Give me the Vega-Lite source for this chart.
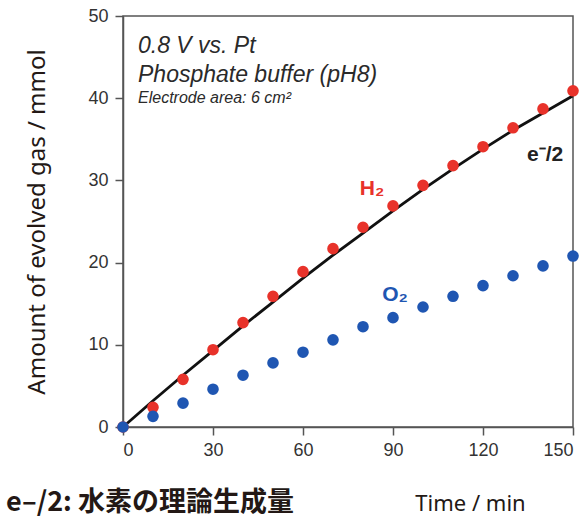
{
  "$schema": "https://vega.github.io/schema/vega-lite/v6.json",
  "width": 450,
  "height": 411,
  "autosize": {"type": "none"},
  "padding": {"left": 123, "top": 16, "right": 10, "bottom": 91},
  "background": "white",
  "config": {
    "view": {"stroke": "#555", "strokeWidth": 1.5},
    "font": "Liberation Sans"
  },
  "title": {
    "text": "e–/2: 水素の理論生成量",
    "orient": "bottom",
    "anchor": "start",
    "frame": "bounds",
    "font": "Noto Sans CJK JP",
    "fontWeight": "bold",
    "fontSize": 27,
    "color": "#231815",
    "dx": -20,
    "offset": -24
  },
  "datasets": {
    "gas": [
      {"t": 0, "v": 0, "gas": "H2"},
      {"t": 10, "v": 2.4, "gas": "H2"},
      {"t": 20, "v": 5.8, "gas": "H2"},
      {"t": 30, "v": 9.4, "gas": "H2"},
      {"t": 40, "v": 12.7, "gas": "H2"},
      {"t": 50, "v": 15.9, "gas": "H2"},
      {"t": 60, "v": 18.9, "gas": "H2"},
      {"t": 70, "v": 21.7, "gas": "H2"},
      {"t": 80, "v": 24.3, "gas": "H2"},
      {"t": 90, "v": 26.9, "gas": "H2"},
      {"t": 100, "v": 29.4, "gas": "H2"},
      {"t": 110, "v": 31.8, "gas": "H2"},
      {"t": 120, "v": 34.1, "gas": "H2"},
      {"t": 130, "v": 36.4, "gas": "H2"},
      {"t": 140, "v": 38.7, "gas": "H2"},
      {"t": 150, "v": 40.9, "gas": "H2"},
      {"t": 0, "v": 0, "gas": "O2"},
      {"t": 10, "v": 1.3, "gas": "O2"},
      {"t": 20, "v": 2.9, "gas": "O2"},
      {"t": 30, "v": 4.6, "gas": "O2"},
      {"t": 40, "v": 6.3, "gas": "O2"},
      {"t": 50, "v": 7.8, "gas": "O2"},
      {"t": 60, "v": 9.1, "gas": "O2"},
      {"t": 70, "v": 10.6, "gas": "O2"},
      {"t": 80, "v": 12.2, "gas": "O2"},
      {"t": 90, "v": 13.3, "gas": "O2"},
      {"t": 100, "v": 14.6, "gas": "O2"},
      {"t": 110, "v": 15.9, "gas": "O2"},
      {"t": 120, "v": 17.2, "gas": "O2"},
      {"t": 130, "v": 18.4, "gas": "O2"},
      {"t": 140, "v": 19.6, "gas": "O2"},
      {"t": 150, "v": 20.8, "gas": "O2"}
    ],
    "theory": [
      {"t": 0, "v": 0},
      {"t": 10, "v": 3.2},
      {"t": 20, "v": 6.3},
      {"t": 30, "v": 9.3},
      {"t": 40, "v": 12.3},
      {"t": 50, "v": 15.2},
      {"t": 60, "v": 18.1},
      {"t": 70, "v": 20.9},
      {"t": 80, "v": 23.6},
      {"t": 90, "v": 26.3},
      {"t": 100, "v": 28.9},
      {"t": 110, "v": 31.4},
      {"t": 120, "v": 33.8},
      {"t": 130, "v": 36.1},
      {"t": 140, "v": 38.2},
      {"t": 150, "v": 40.3}
    ],
    "condLarge": [
      {"t": 5, "v": 46.3, "label": "0.8 V vs. Pt"},
      {"t": 5, "v": 42.8, "label": "Phosphate buffer (pH8)"}
    ],
    "condSmall": [
      {"t": 5, "v": 40.0, "label": "Electrode area: 6 cm²"}
    ],
    "gasLabels": [
      {"t": 83, "v": 29.0, "label": "H₂", "gas": "H2"},
      {"t": 90.7, "v": 16.0, "label": "O₂", "gas": "O2"}
    ],
    "lineLabel": [
      {"t": 140.7, "v": 33.1, "label": "e⁻/2"}
    ]
  },
  "layer": [
    {
      "data": {"name": "theory"},
      "mark": {"type": "line", "color": "#111", "strokeWidth": 2.8},
      "encoding": {
        "x": {
          "field": "t", "type": "quantitative",
          "scale": {"domain": [0, 150], "nice": false},
          "axis": {
            "values": [0, 30, 60, 90, 120, 150],
            "title": "Time / min",
            "titleFont": "Noto Sans",
            "titleFontWeight": "normal",
            "titleFontSize": 22,
            "titleColor": "#231815",
            "titleAnchor": "start",
            "titleAlign": "center",
            "titleX": 347,
            "titlePadding": 34,
            "labelFontSize": 18,
            "labelColor": "#333",
            "labelPadding": 6,
            "tickSize": 8,
            "tickColor": "#555",
            "tickWidth": 1.5,
            "domainColor": "#555",
            "domainWidth": 1.5,
            "grid": false
          }
        },
        "y": {
          "field": "v", "type": "quantitative",
          "scale": {"domain": [0, 50], "nice": false},
          "axis": {
            "values": [0, 10, 20, 30, 40, 50],
            "title": "Amount of evolved gas / mmol",
            "titleFont": "Noto Sans",
            "titleFontWeight": "normal",
            "titleFontSize": 24,
            "titleColor": "#231815",
            "titlePadding": 38,
            "labelFontSize": 18,
            "labelColor": "#333",
            "labelPadding": 7,
            "tickSize": 8,
            "tickColor": "#555",
            "tickWidth": 1.5,
            "domainColor": "#555",
            "domainWidth": 1.5,
            "grid": false
          }
        }
      }
    },
    {
      "data": {"name": "gas"},
      "mark": {"type": "circle", "size": 135, "opacity": 1},
      "encoding": {
        "x": {"field": "t", "type": "quantitative"},
        "y": {"field": "v", "type": "quantitative"},
        "color": {
          "field": "gas", "type": "nominal",
          "scale": {"domain": ["H2", "O2"], "range": ["#e8322a", "#1f56b2"]},
          "legend": null
        }
      }
    },
    {
      "data": {"name": "condLarge"},
      "mark": {"type": "text", "align": "left", "baseline": "middle", "fontStyle": "italic", "fontSize": 23, "color": "#2a2a2a", "font": "Liberation Sans"},
      "encoding": {
        "x": {"field": "t", "type": "quantitative"},
        "y": {"field": "v", "type": "quantitative"},
        "text": {"field": "label"}
      }
    },
    {
      "data": {"name": "condSmall"},
      "mark": {"type": "text", "align": "left", "baseline": "middle", "fontStyle": "italic", "fontSize": 16, "color": "#2a2a2a", "font": "Liberation Sans"},
      "encoding": {
        "x": {"field": "t", "type": "quantitative"},
        "y": {"field": "v", "type": "quantitative"},
        "text": {"field": "label"}
      }
    },
    {
      "data": {"name": "gasLabels"},
      "mark": {"type": "text", "align": "center", "baseline": "middle", "fontSize": 21, "fontWeight": "bold", "font": "Liberation Sans"},
      "encoding": {
        "x": {"field": "t", "type": "quantitative"},
        "y": {"field": "v", "type": "quantitative"},
        "text": {"field": "label"},
        "color": {"field": "gas", "type": "nominal", "legend": null}
      }
    },
    {
      "data": {"name": "lineLabel"},
      "mark": {"type": "text", "align": "center", "baseline": "middle", "fontSize": 21, "fontWeight": "bold", "color": "#222", "font": "Liberation Sans"},
      "encoding": {
        "x": {"field": "t", "type": "quantitative"},
        "y": {"field": "v", "type": "quantitative"},
        "text": {"field": "label"}
      }
    }
  ]
}
